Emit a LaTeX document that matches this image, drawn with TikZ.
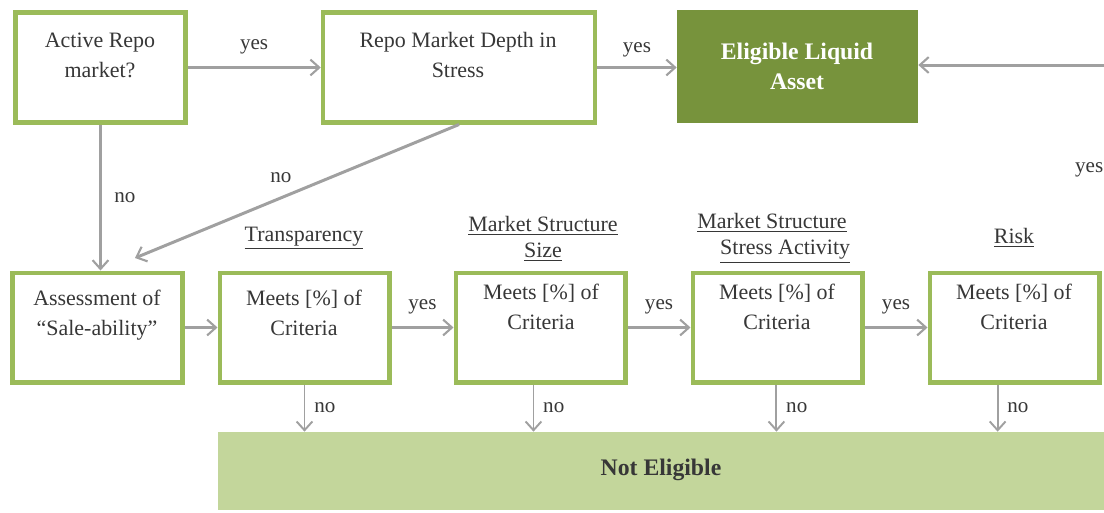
\documentclass[tikz,border=0pt]{standalone}
\usepackage{fontspec}
\setmainfont{Liberation Serif}
\usetikzlibrary{arrows.meta,positioning,calc}
\definecolor{boxgreen}{RGB}{155,187,89}
\definecolor{darkgreen}{RGB}{119,147,60}
\definecolor{lightgreen}{RGB}{195,214,155}
\definecolor{arrowgray}{RGB}{160,160,160}
\definecolor{txtgray}{RGB}{55,55,55}

\begin{document}
\begin{tikzpicture}[x=0.02cm,y=-0.02cm,
 stepbox/.style={draw=boxgreen, line width=2.3pt, fill=white, minimum width=3.4cm, minimum height=2.2cm},
 txt/.style={align=center, text=txtgray, font=\fontsize{12.5}{17}\selectfont},
 title/.style={align=center, text=txtgray, font=\fontsize{12.5}{15}\selectfont},
 lbl/.style={text=txtgray, font=\fontsize{12}{14}\selectfont, inner sep=1pt},
 conn/.style={draw=arrowgray, line width=1.7pt, -{Straight Barb[length=5pt,width=9pt,line width=1.2pt]}},
 connthin/.style={draw=arrowgray, line width=1.1pt, -{Straight Barb[length=5pt,width=9pt,line width=1.1pt]}}]
\useasboundingbox (0,0) rectangle (1104,512);

% top row
\node[stepbox] (act) at (100.5,67.5) {};
\node[stepbox, minimum width=5.45cm] (depth) at (459,67.5) {};
\node[fill=darkgreen, minimum width=4.82cm, minimum height=2.26cm] (elig) at (797.5,66.5) {};
\node[txt] (actT) at (100,55) {Active Repo\\market?};
\node[txt] (depthT) at (458,55) {Repo Market Depth in\\Stress};
\node[txt, text=white, font=\fontsize{13.5}{17}\selectfont\bfseries] (eligT) at (797,66) {Eligible Liquid\\Asset};

% bottom row
\node[stepbox] (assess) at (97.5,327.5) {};
\node[stepbox] (m1) at (304.5,327.5) {};
\node[stepbox] (m2) at (540.5,327.5) {};
\node[stepbox] (m3) at (777.5,327.5) {};
\node[stepbox] (m4) at (1014.5,327.5) {};
\node[txt] (assessT) at (97,315) {Assessment of\\``Sale-ability''};
\node[txt] (m1T) at (304,313) {Meets [\%] of\\Criteria};
\node[txt] (m2T) at (541,307) {Meets [\%] of\\Criteria};
\node[txt] (m3T) at (777,307) {Meets [\%] of\\Criteria};
\node[txt] (m4T) at (1014,307) {Meets [\%] of\\Criteria};

% criteria titles
\node[title] (transT) at (304,238) {\underline{Transparency}};
\node[title] (sizeT) at (543,239) {\underline{Market Structure}\\\underline{Size}};
\node[title] (stressT) at (772,238) {\underline{Market Structure}\\\hspace*{1.2em}\underline{Stress Activity}};
\node[title] (riskT) at (1014,238) {\underline{Risk}};

\node[fill=lightgreen, minimum width=17.72cm, minimum height=1.56cm] (noel) at (661,471) {};
\node[text=txtgray, font=\fontsize{13.5}{17}\selectfont\bfseries] (noelT) at (661,470) {Not Eligible};

% connectors
\draw[conn] (act.east) -- (depth.west) node[midway, above=6pt, lbl] {yes};
\draw[conn] (depth.east) -- (depth.east -| elig.west) node[midway, above=4pt, lbl] {yes};
\draw[conn] (act.south) -- (act.south |- assess.north) node[midway, right=6pt, lbl] {no};
\coordinate (diagEnd) at (135,258);
\draw[conn] (depth.south) -- (diagEnd) node[pos=0.55, above=7pt, lbl] {no};
\coordinate (rin) at (1104,65);
\draw[conn] (rin) -- (rin -| elig.east);
\node[lbl, anchor=west] (yesR) at (1073,170) {yes};

\draw[conn] (assess.east) -- (m1.west);
\draw[conn] (m1.east) -- (m2.west) node[midway, above=6pt, lbl] {yes};
\draw[conn] (m2.east) -- (m3.west) node[midway, above=6pt, lbl] {yes};
\draw[conn] (m3.east) -- (m4.west) node[midway, above=6pt, lbl] {yes};

\draw[connthin] (m1.south) -- (m1.south |- noel.north) node[midway, right=4pt, lbl] {no};
\draw[connthin] ([xshift=-4pt]m2.south) -- ([xshift=-4pt]m2.south |- noel.north) node[midway, right=4pt, lbl] {no};
\draw[connthin] ([xshift=-0.6pt]m3.south) -- ([xshift=-0.6pt]m3.south |- noel.north) node[midway, right=4pt, lbl] {no};
\draw[connthin] ([xshift=-9.6pt]m4.south) -- ([xshift=-9.6pt]m4.south |- noel.north) node[midway, right=4pt, lbl] {no};
\end{tikzpicture}
\end{document}
